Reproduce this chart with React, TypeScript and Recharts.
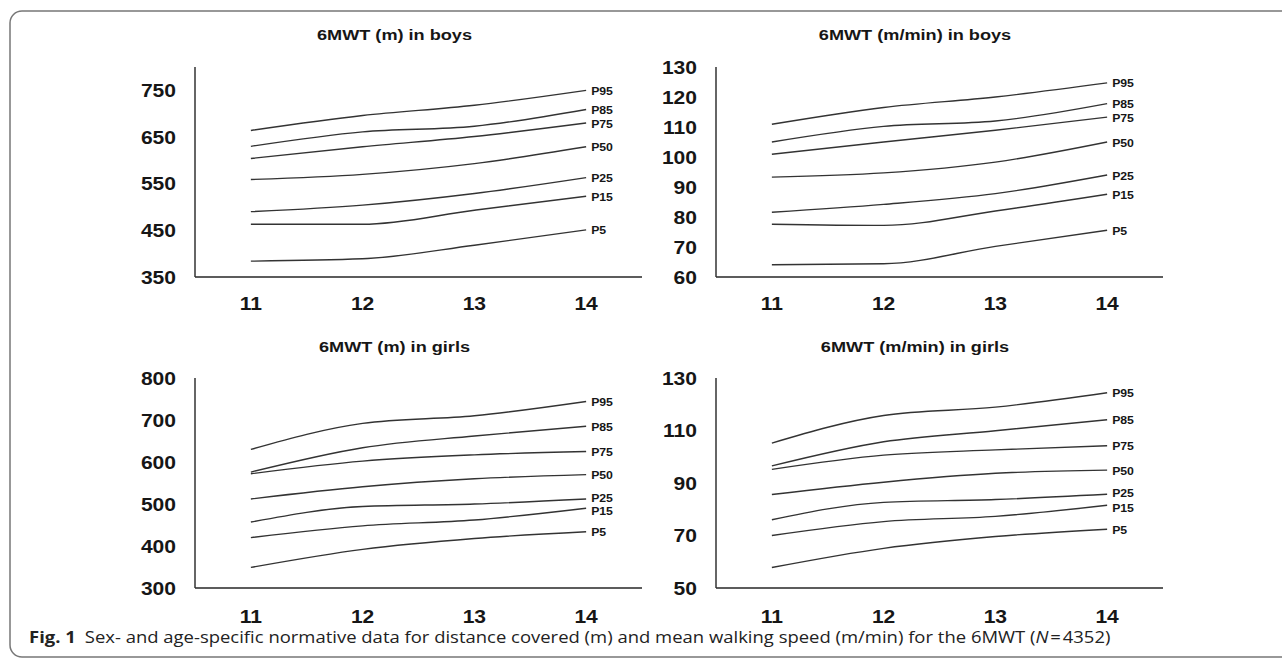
import React from 'react';
import { LineChart, Line, XAxis, YAxis, LabelList } from 'recharts';

// ages on the x axis, percentile curves top to bottom
const AGES = [11, 12, 13, 14];
const PERCENTILES = ['P95', 'P85', 'P75', 'P50', 'P25', 'P15', 'P5'];

// 6MWT distance (m), boys
const boysMeters = [
  [664, 696, 718, 750],
  [630, 661, 673, 709],
  [604, 629, 651, 680],
  [559, 570, 593, 629],
  [490, 504, 529, 563],
  [463, 463, 493, 523],
  [384, 389, 418, 451],
];

// walking speed (m/min), boys
const boysSpeed = [
  [110.9, 116.5, 120, 124.7],
  [105, 110.2, 112, 117.8],
  [100.9, 105, 108.9, 113.3],
  [93.3, 94.7, 98.3, 105],
  [81.6, 84.2, 87.8, 94],
  [77.6, 77.2, 82, 87.6],
  [64.1, 64.4, 70.2, 75.6],
];

// 6MWT distance (m), girls
const girlsMeters = [
  [630, 692, 710, 744],
  [576, 634, 662, 685],
  [572, 602, 617, 625],
  [512, 541, 560, 570],
  [457, 494, 500, 512],
  [420, 448, 462, 490],
  [349, 392, 418, 434],
];

// walking speed (m/min), girls
const girlsSpeed = [
  [105.2, 115.7, 118.9, 124.4],
  [96.5, 105.7, 109.9, 114.1],
  [95.2, 100.6, 102.6, 104.2],
  [85.6, 90.3, 93.7, 94.9],
  [76, 82.6, 83.7, 85.7],
  [70, 75.3, 77.3, 81.5],
  [57.8, 65.1, 69.6, 72.4],
];

const boysMetersTicks = [350, 450, 550, 650, 750];
const boysSpeedTicks = [60, 70, 80, 90, 100, 110, 120, 130];
const girlsMetersTicks = [300, 400, 500, 600, 700, 800];
const girlsSpeedTicks = [50, 70, 90, 110, 130];

const FONT = '"Liberation Sans", Arial, sans-serif';
const STRETCH = 1.17; // the original figure is stretched sideways
const INK = '#161616';

const toRows = (series: number[][]) =>
  AGES.map((age, i) => {
    const row: Record<string, number> = { age };
    PERCENTILES.forEach((p, k) => {
      row[p] = series[k][i];
    });
    return row;
  });

const YTick = (props: any) => {
  const { x, y, payload } = props;
  return (
    <text
      transform={`translate(${x},${y + 6.5}) scale(${STRETCH},1)`}
      textAnchor="end"
      fontFamily={FONT}
      fontSize={18}
      fontWeight={700}
      fill={INK}
    >
      {payload.value}
    </text>
  );
};

const XTick = (props: any) => {
  const { x, y, payload } = props;
  return (
    <text
      transform={`translate(${x},${y + 13}) scale(${STRETCH},1)`}
      textAnchor="middle"
      fontFamily={FONT}
      fontSize={18}
      fontWeight={700}
      fill={INK}
    >
      {payload.value}
    </text>
  );
};

// small vertical nudges where two end labels crowd each other
const endLabel = (name: string, nudge: number) => (props: any) => {
  const { x, y, index } = props;
  if (index !== AGES.length - 1) return null;
  return (
    <text
      transform={`translate(${x + 5},${y + 4.5 + nudge}) scale(${STRETCH},1)`}
      fontFamily={FONT}
      fontSize={10.5}
      fontWeight={700}
      fill={INK}
    >
      {name}
    </text>
  );
};

type PanelProps = {
  series: number[][];
  domain: [number, number];
  ticks: number[];
  left: number;
  top: number;
  width: number;
  axisWidth: number;
  rightPad: number;
  tickGap: number;
  nudges?: Record<string, number>;
};

function Panel({ series, domain, ticks, left, top, width, axisWidth, rightPad, tickGap, nudges = {} }: PanelProps) {
  const rows = toRows(series);
  return (
    <div style={{ position: 'absolute', left, top }}>
      <LineChart
        width={width}
        height={320}
        data={rows}
        margin={{ top: 67, right: rightPad, bottom: 0, left: 0 }}
      >
        <XAxis
          dataKey="age"
          type="number"
          domain={[10.5, 14.5]}
          ticks={AGES}
          height={43}
          tickSize={0}
          tickMargin={tickGap}
          tick={<XTick />}
          axisLine={{ stroke: '#5c5c5c', strokeWidth: 2 }}
          tickLine={false}
        />
        <YAxis
          type="number"
          domain={domain}
          ticks={ticks}
          interval={0}
          width={axisWidth}
          tickSize={0}
          tickMargin={19}
          tick={<YTick />}
          axisLine={{ stroke: '#333', strokeWidth: 1.5 }}
          tickLine={false}
        />
        {PERCENTILES.map((p) => (
          <Line
            key={p}
            dataKey={p}
            type="monotone"
            stroke="#333"
            strokeWidth={1.4}
            dot={false}
            isAnimationActive={false}
          >
            <LabelList dataKey={p} content={endLabel(p, nudges[p] || 0)} />
          </Line>
        ))}
      </LineChart>
    </div>
  );
}

const TITLES = [
  { text: '6MWT (m) in boys', x: 394.5, y: 40 },
  { text: '6MWT (m/min) in boys', x: 915, y: 40 },
  { text: '6MWT (m) in girls', x: 394.5, y: 352 },
  { text: '6MWT (m/min) in girls', x: 915, y: 352 },
];

const girlsNudges = { P25: -1.5, P15: 2 };

export default function App() {
  return (
    <div
      style={{
        position: 'absolute',
        left: 0,
        top: 0,
        width: 1282,
        height: 660,
        overflow: 'hidden',
        background: '#fff',
      }}
    >
      <svg width={1282} height={660} style={{ position: 'absolute', left: 0, top: 0 }}>
        <rect x={10} y={11} width={1320} height={646} rx={12} fill="none" stroke="#777" strokeWidth={1.5} />
        {TITLES.map((t) => (
          <text
            key={t.text}
            transform={`translate(${t.x},${t.y}) scale(${STRETCH},1)`}
            textAnchor="middle"
            fontFamily={FONT}
            fontSize={15.5}
            fontWeight={700}
            fill={INK}
          >
            {t.text}
          </text>
        ))}
        <text
          transform="translate(29,643) scale(1.12,1)"
          fontFamily='"Open Sans", sans-serif'
          fontSize={16.5}
          fill="#222"
        >
          <tspan fontWeight={700}>Fig. 1</tspan>
          <tspan dx={8}>Sex- and age-specific normative data for distance covered (m) and mean walking speed (m/min) for the 6MWT (</tspan>
          <tspan fontStyle="italic">N</tspan>
          <tspan>{'\u200A=\u200A4352)'}</tspan>
        </text>
      </svg>
      <Panel series={boysMeters} domain={[350, 800]} ticks={boysMetersTicks} left={0} top={0} width={660} axisWidth={195} rightPad={18} tickGap={20} />
      <Panel series={boysSpeed} domain={[60, 130]} ticks={boysSpeedTicks} left={641} top={0} width={641} axisWidth={75} rightPad={119} tickGap={20} />
      <Panel series={girlsMeters} domain={[300, 800]} ticks={girlsMetersTicks} left={0} top={311} width={660} axisWidth={195} rightPad={18} tickGap={22} nudges={girlsNudges} />
      <Panel series={girlsSpeed} domain={[50, 130]} ticks={girlsSpeedTicks} left={641} top={311} width={641} axisWidth={75} rightPad={119} tickGap={22} nudges={girlsNudges} />
    </div>
  );
}
